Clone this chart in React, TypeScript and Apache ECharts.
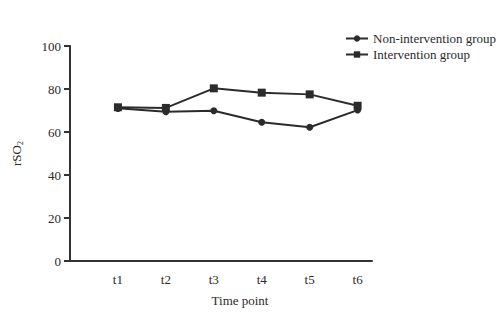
import React, { useEffect, useRef } from "react";
import * as echarts from "echarts";

const categories = ["t1", "t2", "t3", "t4", "t5", "t6"];
const nonIntervention = [71, 69.4, 69.9, 64.5, 62.2, 70.2];
const intervention = [71.5, 71.2, 80.3, 78.3, 77.5, 72.2];
const yTicks = [0, 20, 40, 60, 80, 100];

const FONT = "'Liberation Serif', 'DejaVu Serif', serif";
const INK = "#2b2b2b";

export default function App() {
  const ref = useRef<HTMLDivElement>(null);
  useEffect(() => {
    if (!ref.current) return;
    const chart = echarts.init(ref.current, undefined, { renderer: "svg" });
    const toPts = (arr: number[]) => arr.map((v, i) => [i + 1, v]);
    chart.setOption({
      animation: false,
      backgroundColor: "#fff",
      textStyle: { fontFamily: FONT, color: INK },
      grid: { left: 70, right: 128, top: 46, bottom: 48 },
      legend: {
        orient: "vertical",
        left: 340,
        top: 27,
        itemGap: 3,
        itemWidth: 22,
        itemHeight: 8,
        textStyle: { fontFamily: FONT, fontSize: 13, color: INK },
        data: ["Non-intervention group", "Intervention group"],
      },
      xAxis: {
        type: "value",
        min: 0,
        max: 6.3,
        interval: 1,
        name: "Time point",
        nameLocation: "middle",
        nameGap: 33,
        nameTextStyle: { fontFamily: FONT, fontSize: 13, color: INK, padding: [0, 0, 0, 38] },
        axisLine: { show: true, lineStyle: { color: "#333", width: 2 } },
        axisTick: { show: false },
        splitLine: { show: false },
        axisLabel: {
          fontFamily: FONT,
          fontSize: 13,
          color: INK,
          margin: 12,
          showMaxLabel: false,
          formatter: (v: number) => (v >= 1 && v <= 6 ? categories[v - 1] : ""),
        },
      },
      yAxis: {
        type: "value",
        min: 0,
        max: 100,
        interval: 20,
        name: "{a|rSO}{b|2}",
        nameLocation: "middle",
        nameGap: 46,
        nameRotate: 90,
        nameTextStyle: {
          rich: {
            a: { fontFamily: FONT, fontSize: 13, color: INK },
            b: { fontFamily: FONT, fontSize: 8, color: INK, padding: [7, 0, 0, 0] },
          },
        },
        axisLine: { show: true, lineStyle: { color: "#333", width: 2 } },
        axisTick: { show: true, length: 6, lineStyle: { color: "#333", width: 2 } },
        splitLine: { show: false },
        axisLabel: {
          fontFamily: FONT,
          fontSize: 13,
          color: INK,
          margin: 9,
          formatter: (v: number) => (yTicks.includes(v) ? String(v) : ""),
        },
      },
      series: [
        {
          name: "Non-intervention group",
          type: "line",
          data: toPts(nonIntervention),
          symbol: "circle",
          symbolSize: 7,
          lineStyle: { color: INK, width: 2 },
          itemStyle: { color: INK },
        },
        {
          name: "Intervention group",
          type: "line",
          data: toPts(intervention),
          symbol: "rect",
          symbolSize: 8,
          lineStyle: { color: INK, width: 2 },
          itemStyle: { color: INK },
        },
      ],
    });
    return () => chart.dispose();
  }, []);
  return <div ref={ref} style={{ width: 500, height: 312, position: "absolute", left: 0, top: 0 }} />;
}
